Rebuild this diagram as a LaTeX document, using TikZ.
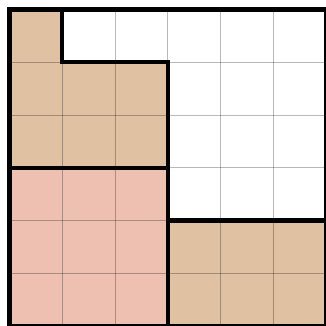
\documentclass[tikz,border=0pt]{standalone}
\usepackage{tikz}
\usetikzlibrary{positioning}

\definecolor{tan}{RGB}{224,194,163}
\definecolor{rose}{RGB}{238,192,178}

\begin{document}
\begin{tikzpicture}[x=1cm,y=1cm,
      region tan/.style={fill=tan,draw=none},
      region rose/.style={fill=rose,draw=none},
      grid line/.style={black,opacity=0.28,line width=0.5pt},
      wall/.style={line width=2.4pt,line join=miter,line cap=rect}]
      \useasboundingbox (-0.18,0) rectangle (6,6.18);

      % coloured regions
      \fill[region tan] (0,6) -- (1,6) -- (1,5) -- (3,5) -- (3,3) -- (0,3) -- cycle;
      \fill[region rose] (0,0) rectangle (3,3);
      \fill[region tan] (3,0) rectangle (6,2);

      % grid
      \foreach \i in {1,...,5} {
        \draw[grid line] (\i,0) -- (\i,6);
        \draw[grid line] (0,\i) -- (6,\i);
      }

      % borders
      \draw[wall] (0,0) rectangle (6,6);
      \draw[wall] (1,6) -- (1,5) -- (3,5) -- (3,0);
      \draw[wall] (0,3) -- (3,3);
      \draw[wall] (3,2) -- (6,2);
    \end{tikzpicture}
\end{document}
